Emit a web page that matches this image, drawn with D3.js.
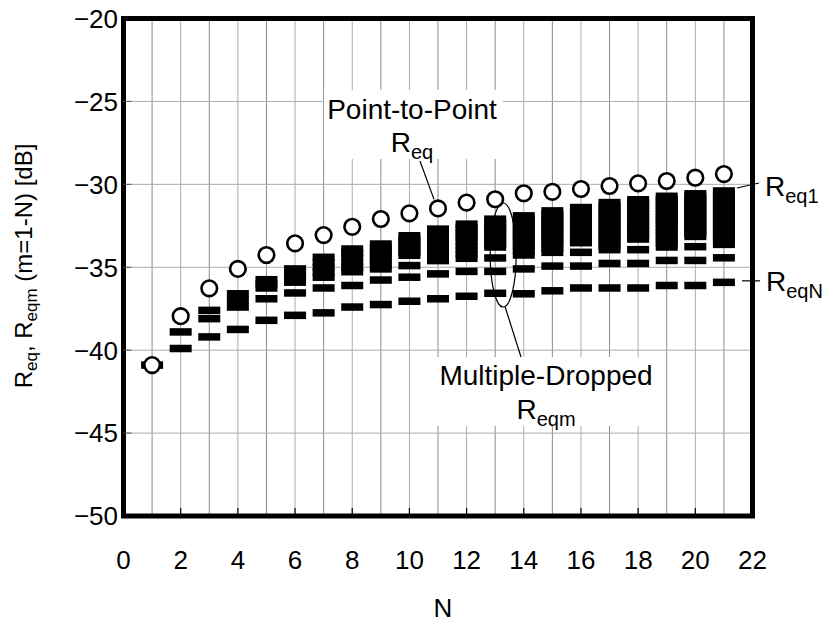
<!DOCTYPE html>
<html>
<head>
<meta charset="utf-8">
<script src="https://cdn.jsdelivr.net/npm/d3@7"></script>
<style>
html,body{margin:0;padding:0;background:#fff;}
svg{display:block;}
text{font-family:"Liberation Sans",Arial,sans-serif;fill:#000;}
</style>
</head>
<body>
<svg id="chart" width="826" height="622"></svg>
<script>
// ---- data ----
const nValues = [1,2,3,4,5,6,7,8,9,10,11,12,13,14,15,16,17,18,19,20,21];
const reqPointToPoint = [-40.9,-37.95,-36.27,-35.1,-34.26,-33.56,-33.06,-32.56,-32.09,-31.75,-31.45,-31.1,-30.9,-30.54,-30.45,-30.28,-30.1,-29.94,-29.8,-29.6,-29.38];
const reqmMultipleDropped = [
  [-40.9],
  [-38.9,-39.9],
  [-37.6,-38.1,-39.2],
  [-36.6,-37.0,-37.4,-38.75],
  [-35.75,-36.0,-36.25,-36.9,-38.2],
  [-35.1,-35.35,-35.6,-35.9,-36.55,-37.9],
  [-34.4,-34.7,-35.0,-35.3,-35.6,-36.25,-37.75],
  [-33.9,-34.15,-34.4,-34.7,-35.0,-35.27,-36.1,-37.4],
  [-33.6,-33.85,-34.1,-34.35,-34.6,-34.85,-35.1,-35.77,-37.25],
  [-33.1,-33.3,-33.5,-33.7,-33.9,-34.1,-34.28,-34.9,-35.6,-37.05],
  [-32.7,-32.92,-33.14,-33.36,-33.58,-33.8,-34.05,-34.3,-34.6,-35.4,-36.9],
  [-32.4,-32.6,-32.8,-33.0,-33.2,-33.45,-33.7,-33.95,-34.2,-34.46,-35.25,-36.75],
  [-32.1,-32.28,-32.46,-32.64,-32.82,-33.0,-33.2,-33.4,-33.6,-33.78,-34.44,-35.25,-36.57],
  [-31.9,-32.1,-32.3,-32.5,-32.7,-32.9,-33.1,-33.3,-33.5,-33.75,-34.0,-34.26,-35.1,-36.6],
  [-31.6,-31.8,-32.0,-32.2,-32.4,-32.6,-32.8,-33.0,-33.2,-33.4,-33.6,-33.85,-34.1,-34.93,-36.42],
  [-31.4,-31.58,-31.76,-31.94,-32.12,-32.3,-32.48,-32.66,-32.84,-33.02,-33.2,-33.36,-33.52,-34.1,-34.93,-36.25],
  [-31.1,-31.3,-31.5,-31.7,-31.9,-32.1,-32.3,-32.5,-32.7,-32.9,-33.1,-33.3,-33.5,-33.72,-33.94,-34.77,-36.25],
  [-30.93,-31.1,-31.27,-31.44,-31.61,-31.78,-31.95,-32.12,-32.29,-32.46,-32.63,-32.8,-32.97,-33.14,-33.3,-33.94,-34.77,-36.25],
  [-30.72,-30.9,-31.08,-31.26,-31.44,-31.62,-31.8,-31.98,-32.16,-32.34,-32.52,-32.72,-32.92,-33.12,-33.32,-33.55,-33.78,-34.59,-36.1],
  [-30.57,-30.73,-30.89,-31.05,-31.21,-31.37,-31.53,-31.69,-31.85,-32.01,-32.17,-32.33,-32.49,-32.65,-32.82,-32.98,-33.14,-33.76,-34.59,-36.1],
  [-30.4,-30.57,-30.74,-30.91,-31.08,-31.25,-31.42,-31.59,-31.76,-31.93,-32.1,-32.27,-32.44,-32.61,-32.78,-32.95,-33.13,-33.35,-33.62,-34.43,-35.91]
];
const xTicks = [0,2,4,6,8,10,12,14,16,18,20,22];
const xGrid = [1,2,3,4,5,6,7,8,9,10,11,12,13,14,15,16,17,18,19,20,21];
const yTicks = [-20,-25,-30,-35,-40,-45,-50];
const xLabel = "N";

// ---- layout ----
const svg = d3.select("#chart");
const L = 123.5, R = 752.5, T = 18.5, B = 516;
const x = d3.scaleLinear().domain([0,22]).range([L,R]);
const y = d3.scaleLinear().domain([-50,-20]).range([B,T]);

// grid
const grid = svg.append("g");
grid.selectAll("line.v").data(xGrid).join("line")
  .attr("x1",d=>x(d)).attr("x2",d=>x(d)).attr("y1",T).attr("y2",B)
  .attr("stroke",d=>d%2?"#8c8c8c":"#ababab").attr("stroke-width",1);
grid.selectAll("line.h").data(yTicks.slice(1,-1)).join("line")
  .attr("x1",L).attr("x2",R).attr("y1",d=>y(d)).attr("y2",d=>y(d))
  .attr("stroke","#ababab").attr("stroke-width",1);

// label backgrounds
svg.append("rect").attr("x",324).attr("y",90).attr("width",179).attr("height",69).attr("fill","#fff");
svg.append("rect").attr("x",432).attr("y",357).attr("width",228).attr("height",69).attr("fill","#fff");

// ellipse around N=13 family + leaders
const ann = svg.append("g").attr("fill","none").attr("stroke","#000").attr("stroke-width",1.2);
ann.append("ellipse").attr("cx",x(13)+8).attr("cy",255).attr("rx",13).attr("ry",52);
ann.append("line").attr("x1",x(13)+10).attr("y1",307).attr("x2",521).attr("y2",357);
ann.append("line").attr("x1",420).attr("y1",161).attr("x2",x(11)-4).attr("y2",y(reqPointToPoint[10])-9);
ann.append("line").attr("x1",x(21)+13).attr("y1",y(reqmMultipleDropped[20][0])-3).attr("x2",759).attr("y2",183);
ann.append("line").attr("x1",742).attr("y1",y(reqmMultipleDropped[20][20])-1.5).attr("x2",760).attr("y2",y(reqmMultipleDropped[20][20])-1.5);

// bars (Reqm)
const barData = [];
nValues.forEach((n,i)=>reqmMultipleDropped[i].forEach(v=>barData.push({n,v})));
svg.append("g").selectAll("rect").data(barData).join("rect")
  .attr("x",d=>x(d.n)-11).attr("y",d=>y(d.v)-3.75)
  .attr("width",22).attr("height",7.5).attr("fill","#000");

// circles (Req)
svg.append("g").selectAll("circle").data(nValues).join("circle")
  .attr("cx",d=>x(d)).attr("cy",(d,i)=>y(reqPointToPoint[i])).attr("r",7.8)
  .attr("fill","#fff").attr("stroke","#000").attr("stroke-width",2.6);

// frame
svg.append("rect").attr("x",L).attr("y",T).attr("width",R-L).attr("height",B-T)
  .attr("fill","none").attr("stroke","#000").attr("stroke-width",5);

// ticks
svg.append("g").selectAll("line").data(yTicks.slice(1,-1)).join("line")
  .attr("x1",L).attr("x2",L+8).attr("y1",d=>y(d)).attr("y2",d=>y(d))
  .attr("stroke","#555").attr("stroke-width",1);
svg.append("g").selectAll("line").data(xTicks.slice(1,-1)).join("line")
  .attr("x1",d=>x(d)).attr("x2",d=>x(d)).attr("y1",B).attr("y2",B-8)
  .attr("stroke","#000").attr("stroke-width",1.2);

// tick labels
const fmt = d3.format("d");
svg.append("g").selectAll("text").data(yTicks).join("text")
  .attr("x",118).attr("y",d=>y(d)).attr("dy","0.36em")
  .attr("text-anchor","end").attr("font-size",26).text(d=>fmt(d));
svg.append("g").selectAll("text").data(xTicks).join("text")
  .attr("x",d=>x(d)).attr("y",569)
  .attr("text-anchor","middle").attr("font-size",26).text(d=>fmt(d));

// axis titles
svg.append("text").attr("x",443).attr("y",617).attr("text-anchor","middle").attr("font-size",26).text(xLabel);
const yt = svg.append("text").attr("transform","translate(32,266) rotate(-90)")
  .attr("text-anchor","middle").attr("font-size",24);
yt.append("tspan").text("R");
yt.append("tspan").attr("font-size",17).attr("dy",5).text("eq");
yt.append("tspan").attr("dy",-5).text(",  R");
yt.append("tspan").attr("font-size",17).attr("dy",5).text("eqm");
yt.append("tspan").attr("dy",-5).text(" (m=1-N) [dB]");

// annotations
function subLabel(xc, yb, main, sub, anchor){
  const t = svg.append("text").attr("x",xc).attr("y",yb).attr("text-anchor",anchor||"middle").attr("font-size",28);
  t.append("tspan").text(main);
  t.append("tspan").attr("font-size",20).attr("dy",7).text(sub);
  return t;
}
svg.append("text").attr("x",412).attr("y",119).attr("text-anchor","middle").attr("font-size",28).text("Point-to-Point");
subLabel(412,152,"R","eq");
svg.append("text").attr("x",546).attr("y",385).attr("text-anchor","middle").attr("font-size",28).text("Multiple-Dropped");
subLabel(546,419,"R","eqm");
subLabel(765,196,"R","eq1","start");
subLabel(766,291,"R","eqN","start");
</script>
</body>
</html>
